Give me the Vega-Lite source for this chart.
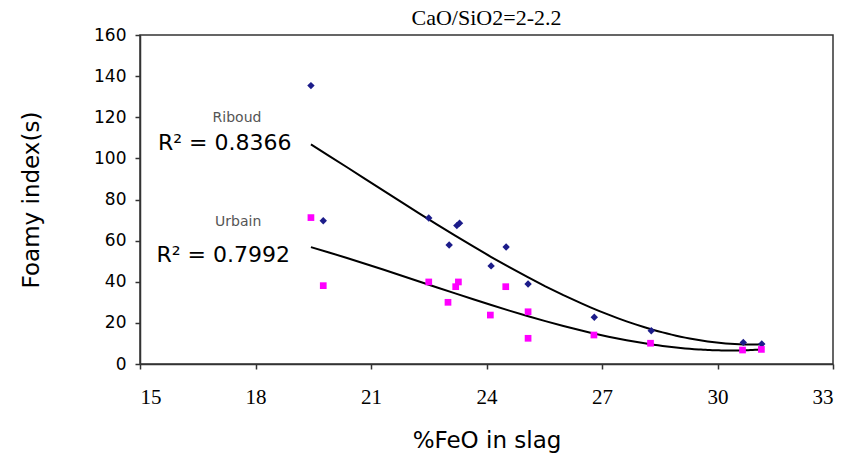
{
  "$schema": "https://vega.github.io/schema/vega-lite/v6.json",
  "autosize": "none",
  "width": 693,
  "height": 329,
  "padding": {"left": 140, "top": 35, "right": 12, "bottom": 93},
  "background": "white",
  "title": {"text": "CaO/SiO2=2-2.2", "font": "Liberation Serif", "fontSize": 22, "fontWeight": "normal", "color": "black", "anchor": "middle", "offset": 5, "dy": 9},
  "config": {
    "view": {"stroke": "#333333", "strokeWidth": 1.5},
    "axis": {"grid": false, "domainColor": "#333333", "tickColor": "#333333", "labelColor": "black", "titleColor": "black", "titleFontWeight": "normal", "domainWidth": 1.5, "tickWidth": 1.5}
  },
  "datasets": {
    "pts": [
      {"feo": 19.44, "fi": 135.4, "series": "Riboud"},
      {"feo": 19.76, "fi": 69.7, "series": "Riboud"},
      {"feo": 22.5, "fi": 71, "series": "Riboud"},
      {"feo": 23.03, "fi": 57.9, "series": "Riboud"},
      {"feo": 23.23, "fi": 67.3, "series": "Riboud"},
      {"feo": 23.3, "fi": 68.5, "series": "Riboud"},
      {"feo": 24.12, "fi": 47.7, "series": "Riboud"},
      {"feo": 24.51, "fi": 56.9, "series": "Riboud"},
      {"feo": 25.08, "fi": 38.9, "series": "Riboud"},
      {"feo": 26.8, "fi": 22.7, "series": "Riboud"},
      {"feo": 28.28, "fi": 16.2, "series": "Riboud"},
      {"feo": 30.67, "fi": 10.5, "series": "Riboud"},
      {"feo": 31.15, "fi": 9.7, "series": "Riboud"},
      {"feo": 19.44, "fi": 71.2, "series": "Urbain"},
      {"feo": 19.76, "fi": 38.1, "series": "Urbain"},
      {"feo": 22.5, "fi": 39.9, "series": "Urbain"},
      {"feo": 23.0, "fi": 30, "series": "Urbain"},
      {"feo": 23.2, "fi": 37.6, "series": "Urbain"},
      {"feo": 23.27, "fi": 39.9, "series": "Urbain"},
      {"feo": 24.1, "fi": 23.8, "series": "Urbain"},
      {"feo": 24.5, "fi": 37.6, "series": "Urbain"},
      {"feo": 25.08, "fi": 25.4, "series": "Urbain"},
      {"feo": 25.08, "fi": 12.5, "series": "Urbain"},
      {"feo": 26.79, "fi": 14.1, "series": "Urbain"},
      {"feo": 28.26, "fi": 10.1, "series": "Urbain"},
      {"feo": 30.65, "fi": 6.8, "series": "Urbain"},
      {"feo": 31.14, "fi": 7.1, "series": "Urbain"}
    ],
    "labels": [
      {"feo": 17.52, "fi": 119.6, "text": "Riboud", "kind": "name"},
      {"feo": 17.55, "fi": 69, "text": "Urbain", "kind": "name"},
      {"feo": 17.2, "fi": 107.5, "text": "R² = 0.8366", "kind": "r2"},
      {"feo": 17.16, "fi": 53, "text": "R² = 0.7992", "kind": "r2"}
    ]
  },
  "encoding": {
    "x": {"field": "feo", "type": "quantitative", "scale": {"domain": [15, 33], "nice": false, "zero": false},
      "axis": {"values": [15, 18, 21, 24, 27, 30, 33], "title": "%FeO in slag", "titleFont": "DejaVu Sans", "titleFontSize": 23, "titlePadding": 22, "labelFont": "Liberation Serif", "labelFontSize": 21, "labelPadding": 17, "tickSize": 5}},
    "y": {"field": "fi", "type": "quantitative", "scale": {"domain": [0, 160], "nice": false},
      "axis": {"values": [0, 20, 40, 60, 80, 100, 120, 140, 160], "title": "Foamy index(s)", "titleFont": "DejaVu Sans", "titleFontSize": 23, "titlePadding": 50, "labelFont": "DejaVu Sans", "labelFontSize": 17, "labelPadding": 9, "tickSize": 5}}
  },
  "layer": [
    {
      "data": {"name": "pts"},
      "transform": [
        {"regression": "fi", "on": "feo", "method": "poly", "order": 3, "groupby": ["series"], "extent": [19.44, 31.15]}
      ],
      "mark": {"type": "line", "color": "black", "strokeWidth": 2},
      "encoding": {"detail": {"field": "series"}}
    },
    {
      "data": {"name": "pts"},
      "transform": [{"filter": "datum.series === 'Riboud'"}],
      "mark": {"type": "point", "shape": "diamond", "filled": true, "color": "#1c1c8a", "size": 55, "opacity": 1}
    },
    {
      "data": {"name": "pts"},
      "transform": [{"filter": "datum.series === 'Urbain'"}],
      "mark": {"type": "point", "shape": "square", "filled": true, "color": "#ff00ff", "size": 45, "opacity": 1}
    },
    {
      "data": {"name": "labels"},
      "transform": [{"filter": "datum.kind === 'name'"}],
      "mark": {"type": "text", "font": "DejaVu Sans", "fontSize": 14, "color": "#555555"},
      "encoding": {"text": {"field": "text"}}
    },
    {
      "data": {"name": "labels"},
      "transform": [{"filter": "datum.kind === 'r2'"}],
      "mark": {"type": "text", "font": "DejaVu Sans", "fontSize": 22, "color": "black"},
      "encoding": {"text": {"field": "text"}}
    }
  ]
}
